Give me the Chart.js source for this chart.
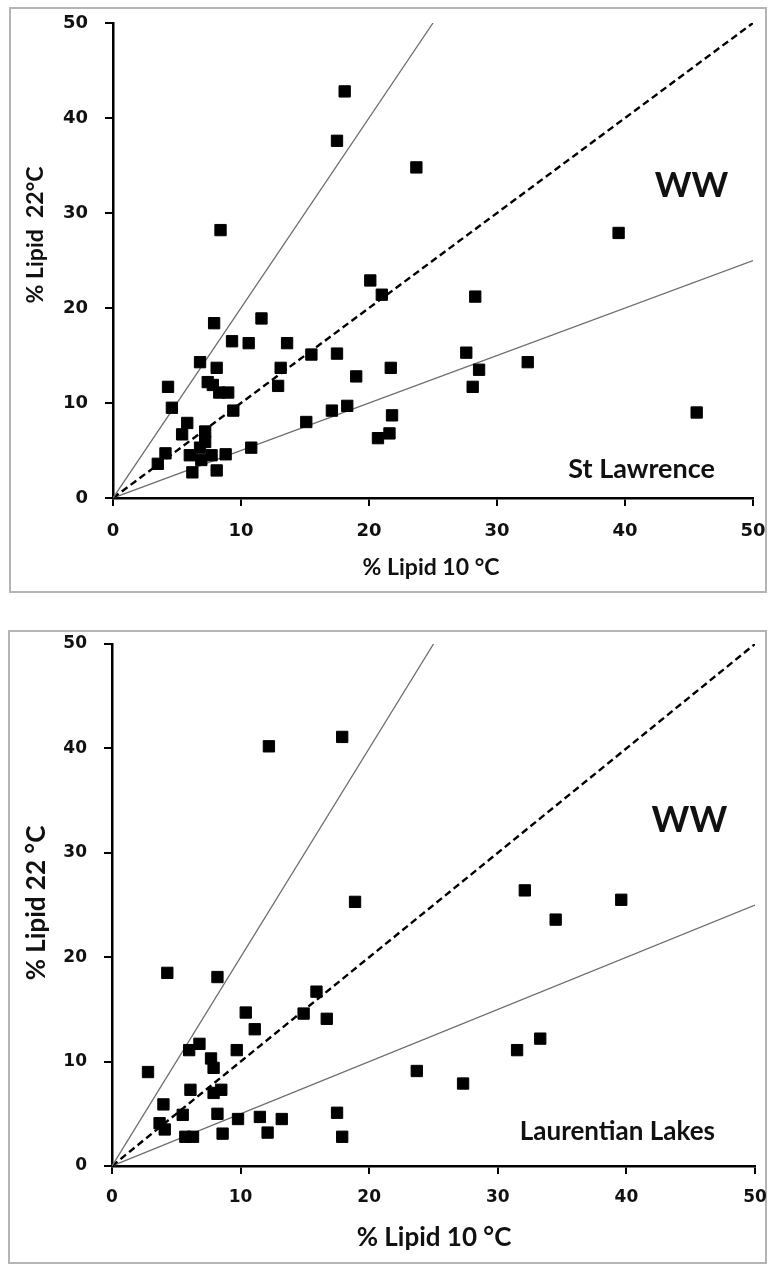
<!DOCTYPE html>
<html>
<head>
<meta charset="utf-8">
<script src="https://cdn.jsdelivr.net/npm/chart.js@4.4.1/dist/chart.umd.min.js"></script>
<style>
  html, body { margin: 0; padding: 0; background: #fff; }
  body { position: relative; width: 768px; height: 1264px; overflow: hidden; }
  .box { position: absolute; box-sizing: border-box; border: 2px solid #b4b4b4; }
  #box1 { left: 9px; top: 7px; width: 758px; height: 586px; }
  #box2 { left: 8px; top: 630px; width: 759px; height: 634px; }
  canvas { position: absolute; left: 0; }
  #c1 { top: 0; }
  #c2 { top: 600px; }
</style>
</head>
<body>
<div class="box" id="box1"></div>
<div class="box" id="box2"></div>
<canvas id="c1" width="768" height="600"></canvas>
<canvas id="c2" width="768" height="664"></canvas>
<script>
// ---- data ----
const tickValues = [0, 10, 20, 30, 40, 50];
const ratioSlopes = [2, 1, 0.5];            // reference lines y = slope * x
const stLawrenceX = [18.1, 17.5, 23.7, 8.4, 20.1, 21.0, 39.5, 28.3, 27.6, 28.6, 28.1, 32.4, 45.6,
  7.9, 11.6, 9.3, 10.6, 13.6, 6.8, 8.1, 15.5, 17.5, 13.1, 21.7, 19.0, 4.3, 7.4, 7.8, 8.3, 9.0,
  12.9, 4.6, 9.4, 17.1, 18.3, 21.8, 15.1, 5.8, 5.4, 7.2, 20.7, 21.6, 7.2, 4.1, 3.5, 6.0, 6.8,
  6.9, 7.7, 8.8, 10.8, 6.2, 8.1];
const stLawrenceY = [42.8, 37.6, 34.8, 28.2, 22.9, 21.4, 27.9, 21.2, 15.3, 13.5, 11.7, 14.3, 9.0,
  18.4, 18.9, 16.5, 16.3, 16.3, 14.3, 13.7, 15.1, 15.2, 13.7, 13.7, 12.8, 11.7, 12.2, 11.9, 11.1, 11.1,
  11.8, 9.5, 9.2, 9.2, 9.7, 8.7, 8.0, 7.9, 6.7, 7.0, 6.3, 6.8, 5.9, 4.7, 3.6, 4.5, 5.3,
  4.0, 4.5, 4.6, 5.3, 2.7, 2.9];
const laurentianX = [12.2, 17.9, 18.9, 32.1, 39.6, 34.5, 33.3, 31.5, 23.7, 27.3, 4.3, 8.2, 10.4,
  15.9, 14.9, 16.7, 11.1, 6.8, 6.0, 9.7, 7.7, 7.9, 2.8, 6.1, 7.9, 8.5, 4.0, 5.5, 8.2, 9.8, 11.5,
  13.2, 17.5, 3.7, 4.1, 5.7, 6.3, 8.6, 12.1, 17.9];
const laurentianY = [40.2, 41.1, 25.3, 26.4, 25.5, 23.6, 12.2, 11.1, 9.1, 7.9, 18.5, 18.1, 14.7,
  16.7, 14.6, 14.1, 13.1, 11.7, 11.1, 11.1, 10.3, 9.4, 9.0, 7.3, 7.0, 7.3, 5.9, 4.9, 5.0, 4.5, 4.7,
  4.5, 5.1, 4.1, 3.5, 2.8, 2.8, 3.1, 3.2, 2.8];
const axisMax = 50;

// ---- helpers ----
function pts(xs, ys) { return xs.map((x, i) => ({ x: x, y: ys[i] })); }
function ratioLine(slope) {
  const xEnd = Math.min(axisMax, axisMax / slope);
  return [{ x: 0, y: 0 }, { x: xEnd, y: slope * xEnd }];
}
function lineStyle(slope) {
  if (slope === 1) return { borderColor: '#000', borderWidth: 2.4, borderDash: [7, 4] };
  return { borderColor: '#6e6e6e', borderWidth: 1.3, borderDash: [] };
}
function makeTextPlugin(items) {
  return {
    id: 'texts',
    afterDraw(chart) {
      const ctx = chart.ctx, xs = chart.scales.x, ys = chart.scales.y;
      items.forEach(it => {
        ctx.save();
        ctx.font = it.font;
        ctx.fillStyle = '#111';
        ctx.textAlign = 'center';
        ctx.textBaseline = 'middle';
        const px = it.dataX !== undefined ? xs.getPixelForValue(it.dataX) : it.px;
        const py = it.dataY !== undefined ? ys.getPixelForValue(it.dataY) : it.py;
        ctx.translate(px, py);
        if (it.rot) ctx.rotate(it.rot);
        ctx.fillText(it.text, 0, 0);
        ctx.restore();
      });
    }
  };
}
function makeChart(id, data, cfg) {
  const datasets = [{
    type: 'scatter',
    data: pts(data.x, data.y),
    pointStyle: 'rect',
    pointRadius: 8,
    pointHoverRadius: 8,
    backgroundColor: '#000',
    borderColor: '#000',
    borderWidth: 1,
    order: 0
  }];
  ratioSlopes.forEach((s, i) => {
    datasets.push(Object.assign({
      type: 'line',
      data: ratioLine(s),
      pointRadius: 0,
      fill: false,
      tension: 0,
      order: 1 + i
    }, lineStyle(s)));
  });
  const axis = (fit, pad, fontSize) => ({
    type: 'linear',
    min: 0,
    max: axisMax,
    afterBuildTicks: (scale) => { scale.ticks = tickValues.map(v => ({ value: v })); },
    ticks: {
      color: '#111',
      padding: pad,
      font: { family: 'DejaVu Sans', weight: 'bold', size: fontSize }
    },
    grid: { drawOnChartArea: false, drawTicks: true, tickLength: 8, color: '#000', lineWidth: 2 },
    border: { display: true, color: '#000', width: 2.5 },
    afterFit: fit
  });
  return new Chart(document.getElementById(id), {
    data: { datasets: datasets },
    options: {
      responsive: false,
      animation: false,
      events: [],
      layout: { padding: cfg.padding },
      plugins: { legend: { display: false }, tooltip: { enabled: false } },
      scales: {
        x: Object.assign(axis(s => {
          s.height = cfg.xH; s.paddingLeft = 0; s.paddingRight = 0;
        }, cfg.xPad, cfg.tickSize), { position: 'bottom' }),
        y: Object.assign(axis(s => {
          s.width = cfg.yW; s.paddingTop = 0; s.paddingBottom = 0;
        }, cfg.yPad, cfg.tickSize), { position: 'left' })
      }
    },
    plugins: [makeTextPlugin(cfg.texts)]
  });
}

makeChart('c1', { x: stLawrenceX, y: stLawrenceY }, {
  padding: { left: 0, top: 23, right: 15, bottom: 0 },
  xH: 102, yW: 113, xPad: 15, yPad: 17, tickSize: 18,
  texts: [
    { text: 'WW', dataX: 45.2, dataY: 32.9, font: 'bold 35px Lato' },
    { text: 'St Lawrence', dataX: 41.3, dataY: 3.05, font: 'bold 27px Lato' },
    { text: '% Lipid 10 °C', px: 431, py: 568, font: 'bold 23px Lato' },
    { text: '% Lipid  22°C', px: 36, py: 235, rot: -Math.PI / 2, font: 'bold 23px Lato' }
  ]
});

makeChart('c2', { x: laurentianX, y: laurentianY }, {
  padding: { left: 0, top: 44, right: 13, bottom: 0 },
  xH: 98, yW: 112, xPad: 13, yPad: 17, tickSize: 17,
  texts: [
    { text: 'WW', dataX: 44.9, dataY: 33.1, font: 'bold 36px Lato' },
    { text: 'Laurentian Lakes', dataX: 39.3, dataY: 3.3, font: 'bold 26px Lato' },
    { text: '% Lipid 10 °C', px: 434, py: 638, font: 'bold 26px Lato' },
    { text: '% Lipid 22 °C', px: 37, py: 303, rot: -Math.PI / 2, font: 'bold 26px Lato' }
  ]
});
</script>
</body>
</html>
